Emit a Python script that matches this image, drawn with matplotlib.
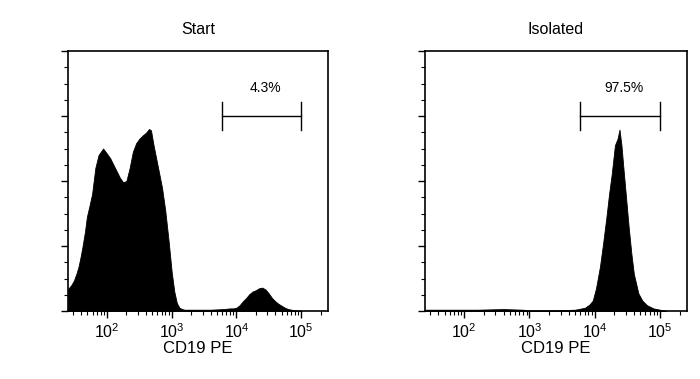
import numpy as np
import matplotlib
matplotlib.use("Agg")
import matplotlib.pyplot as plt
from matplotlib.ticker import LogLocator, MultipleLocator, NullFormatter

plt.rcParams['font.family'] = ['Liberation Sans', 'DejaVu Sans']
plt.rcParams['mathtext.fontset'] = 'custom'
plt.rcParams['mathtext.rm'] = 'Liberation Sans'
plt.rcParams['mathtext.it'] = 'Liberation Sans:italic'
plt.rcParams['mathtext.bf'] = 'Liberation Sans:bold'

# --- data (log10 fluorescence, relative count) ---
start_log = [1.40, 1.45, 1.49, 1.53, 1.56, 1.59, 1.62, 1.66, 1.69, 1.73, 1.77, 1.82,
             1.87, 1.94, 2.00, 2.05, 2.10, 2.15, 2.20, 2.25, 2.30, 2.35, 2.40, 2.45,
             2.50, 2.55, 2.60, 2.65, 2.68, 2.72, 2.76, 2.80, 2.85, 2.90, 2.95, 3.00,
             3.04, 3.08, 3.12, 3.16, 3.20, 3.40, 3.60, 3.80, 3.90, 3.95, 4.00, 4.05,
             4.10, 4.15, 4.20, 4.25, 4.30, 4.35, 4.40, 4.45, 4.50, 4.55, 4.60, 4.65,
             4.70, 4.75, 4.80, 4.85, 4.90, 5.00]
start_cnt = [0.34, 0.40, 0.47, 0.58, 0.68, 0.82, 0.98, 1.22, 1.45, 1.62, 1.80, 2.20,
             2.40, 2.50, 2.42, 2.35, 2.25, 2.15, 2.05, 1.98, 2.00, 2.20, 2.45, 2.58,
             2.65, 2.70, 2.74, 2.80, 2.78, 2.55, 2.35, 2.15, 1.90, 1.55, 1.10, 0.60,
             0.30, 0.12, 0.05, 0.03, 0.02, 0.02, 0.02, 0.03, 0.04, 0.04, 0.05, 0.09,
             0.15, 0.20, 0.26, 0.30, 0.32, 0.35, 0.36, 0.33, 0.27, 0.20, 0.15, 0.11,
             0.08, 0.05, 0.03, 0.02, 0.01, 0.005]

iso_log = [1.40, 1.80, 2.20, 2.60, 2.90, 3.00, 3.40, 3.70, 3.85, 3.92, 3.97, 4.02,
           4.08, 4.13, 4.18, 4.22, 4.26, 4.31, 4.35, 4.38, 4.41, 4.44, 4.48, 4.52,
           4.56, 4.60, 4.67, 4.73, 4.80, 4.90, 5.00, 5.10]
iso_cnt = [0.02, 0.02, 0.02, 0.03, 0.02, 0.01, 0.01, 0.02, 0.05, 0.10, 0.16, 0.35,
           0.68, 1.05, 1.45, 1.80, 2.10, 2.55, 2.65, 2.79, 2.55, 2.20, 1.75, 1.30,
           0.90, 0.57, 0.27, 0.16, 0.09, 0.04, 0.02, 0.0]

titles = ["Start", "Isolated"]
gate_labels = ["4.3%", "97.5%"]
gate_lo, gate_hi = 6000, 100000
gate_y = 3.0
xlabel = "CD19 PE"

fig = plt.figure(figsize=(7.0, 3.79), dpi=100)
rects = [[68/700, 68/379, 260/700, 260/379], [425/700, 68/379, 262/700, 260/379]]
data = [(start_log, start_cnt), (iso_log, iso_cnt)]

for i in range(2):
    ax = fig.add_axes(rects[i])
    lx, cnt = data[i]
    x = 10 ** np.array(lx)
    ax.fill_between(x, 0, cnt, color='black', linewidth=0.6, edgecolor='black')
    ax.set_xscale('log')
    ax.set_xlim(25, 260000)
    ax.set_ylim(0, 4)
    ax.xaxis.set_major_locator(LogLocator(base=10, numticks=10))
    ax.xaxis.set_minor_locator(LogLocator(base=10, subs=np.arange(2, 10), numticks=20))
    ax.xaxis.set_minor_formatter(NullFormatter())
    ax.yaxis.set_major_locator(MultipleLocator(1))
    ax.yaxis.set_minor_locator(MultipleLocator(0.25))
    ax.set_yticklabels([])
    ax.tick_params(axis='both', which='major', direction='out', length=5, width=1, labelsize=11.5, pad=3)
    ax.tick_params(axis='both', which='minor', direction='out', length=3, width=0.8)
    ax.tick_params(top=False, right=False)
    for s in ax.spines.values():
        s.set_linewidth(1.2)
    ax.set_title(titles[i], fontsize=11.5, pad=12)
    ax.set_xlabel(xlabel, fontsize=12, labelpad=0)
    # gate bar
    ax.plot([gate_lo, gate_hi], [gate_y, gate_y], color='black', lw=1)
    ax.plot([gate_lo, gate_lo], [gate_y - 0.22, gate_y + 0.22], color='black', lw=1)
    ax.plot([gate_hi, gate_hi], [gate_y - 0.22, gate_y + 0.22], color='black', lw=1)
    ax.text(np.sqrt(gate_lo * gate_hi) * 1.15, gate_y + 0.32, gate_labels[i],
            ha='center', va='bottom', fontsize=10)

fig.savefig("out.png", dpi=100)
